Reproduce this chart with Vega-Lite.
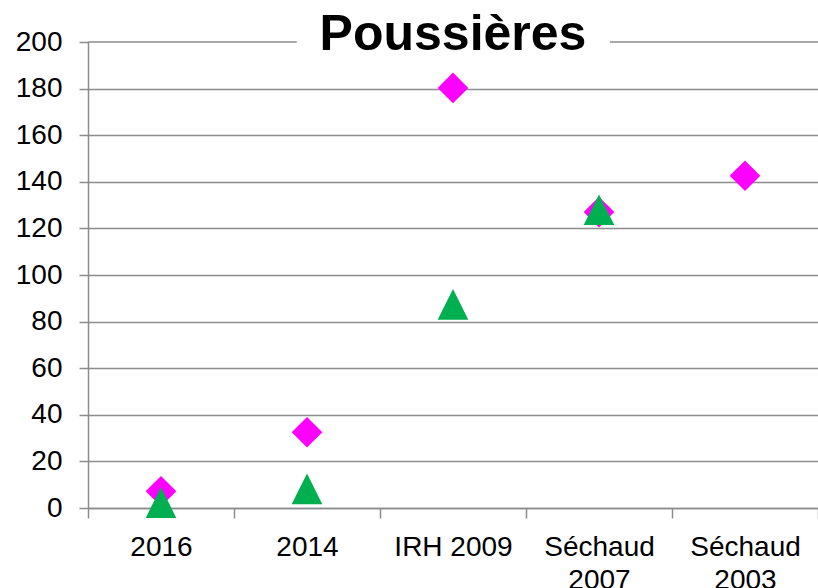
{
  "$schema": "https://vega.github.io/schema/vega-lite/v6.json",
  "width": 730,
  "height": 466,
  "autosize": {"type": "none"},
  "padding": {"left": 88, "top": 42, "right": 0, "bottom": 80},
  "background": "white",
  "title": {"text": "Poussières", "font": "Liberation Sans", "fontSize": 50, "fontWeight": "bold", "color": "black", "anchor": "middle", "frame": "group", "baseline": "alphabetic", "offset": 0, "dy": 72},
  "config": {"view": {"stroke": null}, "font": "Liberation Sans"},
  "layer": [
    {
      "data": {"values": [
        {"categorie": "2016", "serie": "Série 1", "valeur": 7.2},
        {"categorie": "2014", "serie": "Série 1", "valeur": 32.5},
        {"categorie": "IRH 2009", "serie": "Série 1", "valeur": 180.3},
        {"categorie": "Séchaud 2007", "serie": "Série 1", "valeur": 127},
        {"categorie": "Séchaud 2003", "serie": "Série 1", "valeur": 142.6},
        {"categorie": "2016", "serie": "Série 2", "valeur": 2.3},
        {"categorie": "2014", "serie": "Série 2", "valeur": 8.2},
        {"categorie": "IRH 2009", "serie": "Série 2", "valeur": 87.4},
        {"categorie": "Séchaud 2007", "serie": "Série 2", "valeur": 128}
      ]},
      "mark": {"type": "point", "filled": true, "size": 940, "opacity": 1},
      "encoding": {
        "x": {
          "field": "categorie", "type": "nominal", "sort": null,
          "scale": {"type": "band", "paddingInner": 0, "paddingOuter": 0},
          "axis": {
            "title": null, "grid": false, "labelAngle": 0,
            "labelFont": "Liberation Sans", "labelFontSize": 28, "labelColor": "black",
            "labelPadding": 15, "labelLineHeight": 33,
            "labelExpr": "indexof(datum.label, 'Séchaud') == 0 ? split(datum.label, ' ') : datum.label",
            "domainColor": "#8c8c8c", "domainWidth": 1.5,
            "tickColor": "#8c8c8c", "tickWidth": 1.5, "tickSize": 10, "tickBand": "extent"
          }
        },
        "y": {
          "field": "valeur", "type": "quantitative",
          "scale": {"domain": [0, 200], "nice": false},
          "axis": {
            "title": null, "values": [0, 20, 40, 60, 80, 100, 120, 140, 160, 180, 200],
            "grid": true, "gridColor": "#8c8c8c", "gridWidth": 1.5,
            "gridOpacity": {"condition": {"test": "datum.value == 200", "value": 0}, "value": 1},
            "labelFont": "Liberation Sans", "labelFontSize": 28, "labelColor": "black", "labelPadding": 17,
            "domainColor": "#8c8c8c", "domainWidth": 1.5,
            "tickColor": "#8c8c8c", "tickWidth": 1.5, "tickSize": 9
          }
        },
        "color": {"field": "serie", "type": "nominal", "scale": {"domain": ["Série 1", "Série 2"], "range": ["#FF00FF", "#00B050"]}, "legend": null},
        "shape": {"field": "serie", "type": "nominal", "scale": {"domain": ["Série 1", "Série 2"], "range": ["diamond", "M0,-1L1,1L-1,1Z"]}, "legend": null}
      }
    },
    {
      "data": {"values": [
        {"debut": 0, "fin": 0.286, "niveau": 200},
        {"debut": 0.715, "fin": 1, "niveau": 200}
      ]},
      "mark": {"type": "rule", "color": "#8c8c8c", "strokeWidth": 1.5},
      "encoding": {
        "x": {"field": "debut", "type": "quantitative", "scale": {"domain": [0, 1], "nice": false}, "axis": null},
        "x2": {"field": "fin"},
        "y": {"field": "niveau", "type": "quantitative"}
      }
    }
  ],
  "resolve": {"scale": {"x": "independent"}}
}
